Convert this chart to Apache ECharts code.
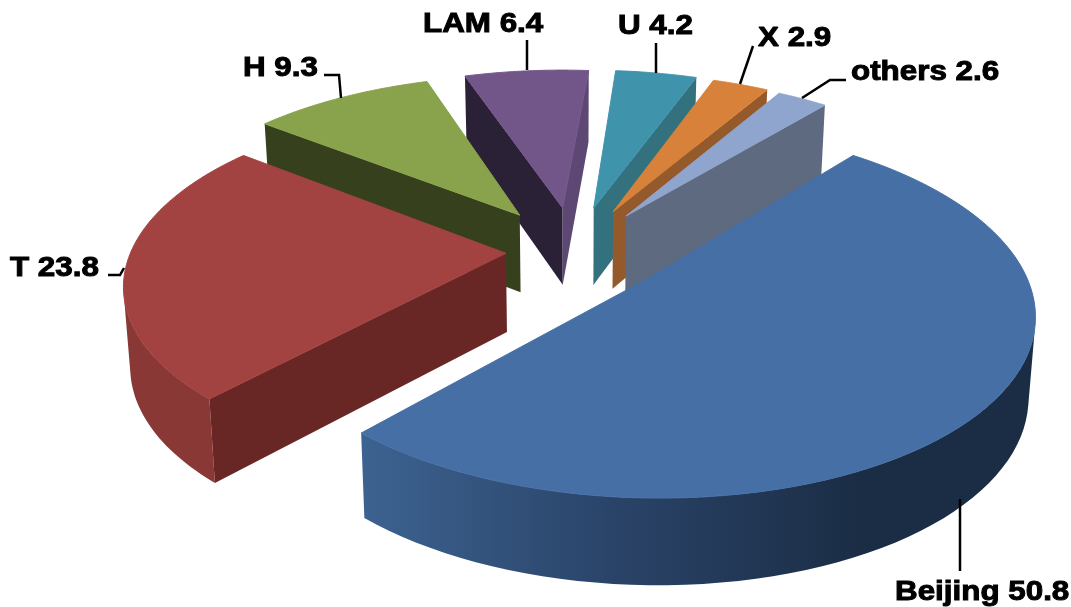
<!DOCTYPE html>
<html><head><meta charset="utf-8"><style>html,body{margin:0;background:#fff}#c{width:1071px;height:607px}</style>
<script src="https://cdn.jsdelivr.net/npm/echarts@6/dist/echarts.min.js"></script></head><body><div id="c"></div>
<script>
const categories=['Beijing','T','H','LAM','U','X','others'];
const values=[50.8,23.8,9.3,6.4,4.2,2.9,2.6];
// perspective camera of the tilted disc, first-slice angle, radial explosion per slice
const P={a:371.41,b:37.22,c:-16.74,d:171.95,g:.0185,h:-.1608,tx:573.87,ty:250.72,t0:-44.80,e:[.2484,.1821,.26,.2601,.2635,.2592,.2534]};
const RAD=Math.PI/180;
function sec(t0){let s=t0,o=[];values.forEach(v=>{o.push([s,s+v*3.6]);s+=v*3.6});return o}
function proj(p,i,th,r,t0){const S=sec(t0)[i];const m=(S[0]+S[1])/2*RAD;const X=p.e[i]*Math.cos(m)+r*Math.cos(th*RAD),Y=p.e[i]*Math.sin(m)+r*Math.sin(th*RAD);const w=1+p.g*X+p.h*Y;return [p.tx+(p.a*X+p.b*Y)/w,p.ty+(p.c*X+p.d*Y)/w,w]}
const tops=['#466fa5','#a34341','#88a34c','#725589','#3f93ab','#d7813a','#8fa5ce'];
const startW=['#222','#682725','#37401c','#2b2137','#33717f','#955a2b','#5d6a80'];
const endW=['#222','#682725','#37401c','#5c4872','#33717f','#955a2b','#5d6a80'];
const order=[3,4,5,6,2,1,0];
const D=78.5,KX=.985;
const labelAt=[[895,592],[10,268],[243,68],[423,24],[618,26],[758,38],[851,72]];
const leaders=[[[960,499],[960,571]],[[124,268],[120,275],[108,275]],[[341,98],[339,75],[324,75]],[[527,70],[527,40]],[[656,73],[656,43]],[[740,84],[753,46]],[[802,98],[830,80],[846,80]]];
function bot(q){return [P.tx+(q[0]-P.tx)*KX,q[1]+D/Math.sqrt(q[2])]}
function area(pts){let s=0;pts.forEach((p,i)=>{const n=pts[(i+1)%pts.length];s+=p[0]*n[1]-n[0]*p[1]});return s/2}
function render(params,api){const i=params.dataIndex;const S=sec(P.t0)[i];const N=80;const rim=[];for(let k=0;k<=N;k++)rim.push(proj(P,i,S[0]+(S[1]-S[0])*k/N,1,P.t0));
 const apex=proj(P,i,0,0,P.t0);const z=order.indexOf(i)*10;const ch=[];
 const poly=(pts,fill,zz,line)=>ch.push({type:'polygon',shape:{points:pts},style:line?{fill,stroke:fill,lineWidth:1}:{fill},z2:z+zz});
 let vis=[];for(let k=0;k<N;k++){const a=rim[k],b=rim[k+1];if(area([a,b,bot(b),bot(a)])<0)vis.push(k)}
 if(vis.length){const lo=vis[0],hi=vis[vis.length-1]+1;const up=rim.slice(lo,hi+1);const dn=up.map(bot).reverse();
  const fill=i==0?{type:'linear',x:358,y:0,x2:860,y2:0,global:true,colorStops:[{offset:0,color:'#3d6391'},{offset:.5,color:'#2a4469'},{offset:1,color:'#1b2d45'}]}:'#8a3835';
  poly(up.concat(dn).map(p=>[p[0],p[1]]),fill,1,false)}
 const wall=(q,fill)=>{const pts=[[apex[0],apex[1]],[q[0],q[1]],bot(q),bot(apex)];poly(pts,fill,2,false)};
 if(area([[apex[0],apex[1]],[rim[0][0],rim[0][1]],bot(rim[0]),bot(apex)])<0)wall(rim[0],startW[i]);
 if(area([[apex[0],apex[1]],[rim[N][0],rim[N][1]],bot(rim[N]),bot(apex)])>0)wall(rim[N],endW[i]);
 poly([[apex[0],apex[1]]].concat(rim.map(p=>[p[0],p[1]])),tops[i],3,true);
 ch.push({type:'polyline',shape:{points:leaders[i]},style:{stroke:'#000',lineWidth:2.5,fill:null},z2:100});
 ch.push({type:'text',x:labelAt[i][0],y:labelAt[i][1],scaleX:1.12,style:{text:categories[i]+' '+values[i].toFixed(1),font:'bold 28px "Liberation Sans"',fill:'#000',stroke:'#000',lineWidth:1,textAlign:'left',textVerticalAlign:'middle'},z2:101});
 return {type:'group',children:ch}}
const chart=echarts.init(document.getElementById('c'));
chart.setOption({animation:false,series:[{type:'custom',coordinateSystem:'none',renderItem:render,data:values}]});
</script></body></html>
